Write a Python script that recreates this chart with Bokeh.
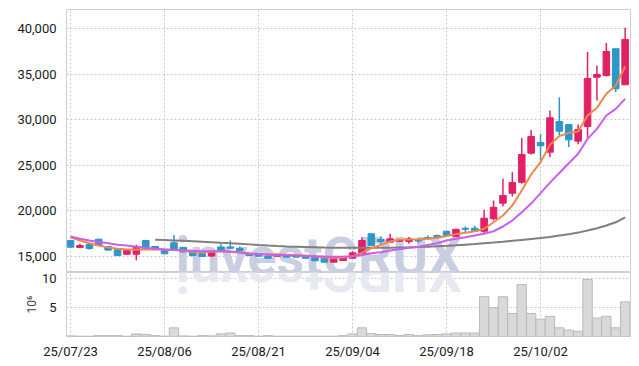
import numpy as np
from bokeh.plotting import figure
from bokeh.models import ColumnDataSource, Range1d, FixedTicker, NumeralTickFormatter
from bokeh.core.properties import value
from bokeh.layouts import column
from bokeh.embed import file_html
from bokeh.resources import INLINE

# ---- data ----
tick_idx = [0, 10, 20, 30, 40, 50]
tick_labels = ["25/07/23", "25/08/06", "25/08/21", "25/09/04", "25/09/18", "25/10/02"]

opens = [16750, 16000, 16300, 16900, 16100, 15750, 15250, 15250, 16750, 16100,
         15700, 16500, 16000, 15550, 15300, 15050, 16050, 16050, 15900, 15330,
         15330, 15030, 15030, 15180, 15110, 15030, 14890, 14810, 14380, 14560,
         14810, 15290, 17490, 16860, 16570, 16680, 16640, 16750, 17080, 17300,
         17770, 17200, 18100, 18100, 17770, 19140, 20850, 21940, 23150, 26330,
         27500, 26440, 29800, 29470, 27650, 29250, 34660, 34850, 37780, 33830]
highs = [16800, 16400, 16350, 16950, 16150, 15800, 15700, 16300, 16850, 16150,
         15750, 17350, 16050, 15600, 15350, 15600, 16400, 16750, 16100, 15400,
         15350, 15100, 15300, 15250, 15150, 15050, 14950, 14850, 14800, 15000,
         15580, 17120, 17550, 17230, 17490, 16900, 17150, 17000, 17300, 17400,
         17850, 18050, 18300, 18370, 20120, 21140, 23520, 24250, 28000, 28880,
         28440, 31010, 32450, 29500, 29470, 37410, 35950, 38400, 37800, 40070]
lows = [15950, 15900, 15750, 16150, 15650, 15100, 15200, 14600, 15850, 15700,
        15300, 15700, 15450, 15100, 14950, 14950, 15600, 15850, 15650, 15100,
        15000, 14800, 15000, 14900, 14900, 14800, 14500, 14350, 14350, 14500,
        14780, 15250, 16150, 16390, 16500, 16600, 16400, 16500, 16800, 17000,
        17250, 17150, 17700, 17700, 17550, 18950, 20480, 21580, 22970, 26180,
        25530, 25890, 28270, 27000, 27300, 28020, 32100, 34740, 33030, 33830]
closes = [16020, 16200, 15880, 16200, 15700, 15100, 15650, 16100, 15900, 15750,
          15300, 15700, 15500, 15100, 15000, 15550, 15650, 15900, 15650, 15110,
          15030, 14810, 15250, 14930, 14930, 14810, 14530, 14380, 14740, 14930,
          15400, 16750, 16210, 16640, 16940, 16860, 16940, 16700, 16940, 17050,
          17300, 17980, 17980, 17770, 19200, 20400, 21690, 23110, 26180, 28160,
          27140, 30210, 28740, 27790, 28930, 34520, 34960, 37480, 33390, 38800]
volume_m = [0.1, 0.05, 0.05, 0.15, 0.15, 0.15, 0.05, 0.45, 0.35, 0.15,
            0.05, 1.5, 0.1, 0.05, 0.15, 0.1, 0.45, 0.6, 0.15, 0.15,
            0.05, 0.15, 0.05, 0.05, 0.05, 0.05, 0.05, 0.05, 0.05, 0.15,
            0.45, 1.5, 0.5, 0.35, 0.35, 0.15, 0.35, 0.15, 0.3, 0.35,
            0.45, 0.6, 0.6, 0.6, 6.9, 5.0, 6.9, 4.0, 9.0, 4.0,
            3.0, 3.5, 1.5, 1.1, 0.9, 9.9, 3.2, 3.5, 1.5, 6.0]
ma_orange = [17100, 16750, 16450, 16200, 16000, 15850, 15780, 15770, 15770, 15780,
             15770, 15720, 15620, 15500, 15470, 15520, 15580, 15520, 15400, 15300,
             15280, 15250, 15220, 15200, 15150, 15100, 15000, 14880, 14830, 14880,
             15030, 15400, 15910, 16280, 16640, 16860, 16870, 16880, 16940, 17050,
             17250, 17450, 17600, 17770, 18040, 18760, 19500, 20590, 22240, 23990,
             25340, 27250, 28200, 28560, 28710, 30460, 31300, 32840, 33750, 35830]
ma_purple = [17190, 16950, 16750, 16600, 16450, 16300, 16200, 16080, 15950, 15850,
             15780, 15730, 15680, 15620, 15580, 15580, 15580, 15560, 15480, 15350,
             15250, 15200, 15170, 15140, 15100, 15060, 15030, 15000, 14980, 14990,
             15020, 15150, 15350, 15470, 15650, 15800, 15950, 16050, 16250, 16450,
             16750, 16950, 17100, 17300, 17490, 17770, 18290, 18950, 19860, 20800,
             21950, 23100, 24150, 25230, 26260, 27900, 29000, 30460, 31190, 32290]
ma_gray = [np.nan] * 9 + [
    16830, 16800, 16760, 16720, 16670, 16620, 16560, 16500, 16450, 16400,
    16330, 16260, 16200, 16150, 16110, 16080, 16050, 16020, 15990, 15970,
    15960, 15950, 15950, 15950, 15960, 15970, 15990, 16010, 16040, 16080,
    16120, 16170, 16230, 16300, 16370, 16450, 16530, 16620, 16720, 16820,
    16920, 17020, 17150, 17300, 17450, 17620, 17850, 18100, 18400, 18750, 19300]

UP = "#e31f66"
DOWN = "#2f96c8"
GRID = "#c5c9dc"
FONT = "Roboto"

n = len(opens)
xs = list(range(n))


def src(flag):
    d = dict(x=[], top=[], bottom=[], high=[], low=[])
    for i in xs:
        if (closes[i] >= opens[i]) == flag:
            d["x"].append(i)
            d["top"].append(max(opens[i], closes[i]))
            d["bottom"].append(min(opens[i], closes[i]))
            d["high"].append(highs[i])
            d["low"].append(lows[i])
    return ColumnDataSource(d)


up_src = src(True)
dn_src = src(False)

xr = Range1d(-0.43, 59.57)
YLO, YHI = 13246, 42083
VLO, VHI = 0, 11.1

p = figure(width=632, height=272, x_range=xr, y_range=Range1d(YLO, YHI),
           output_backend="svg", toolbar_location=None, x_axis_location=None,
           min_border_left=66, min_border_right=2, min_border_top=9, min_border_bottom=0)
p.outline_line_color = "#cfcfcf"
p.yaxis.ticker = FixedTicker(ticks=[15000, 20000, 25000, 30000, 35000, 40000])
p.yaxis.formatter = NumeralTickFormatter(format="0,0")
p.yaxis.axis_line_color = None
p.yaxis.major_tick_line_color = None
p.yaxis.minor_tick_line_color = None
p.yaxis.major_label_standoff = 4
p.yaxis.major_label_text_font = FONT
p.yaxis.major_label_text_font_size = "13px"
p.yaxis.major_label_text_color = "#1a1a1a"
p.xgrid.ticker = FixedTicker(ticks=tick_idx)
for g in (p.xgrid, p.ygrid):
    g.grid_line_color = GRID
    g.grid_line_dash = "2 2"
    g.grid_line_width = 1

# watermark (drawn first, under the candles)
p.text(x=[11.2], y=[15000], text=["investCRUX"], text_font=value(FONT),
       text_font_size="54px", text_font_style="bold", text_color="#c9cee1",
       text_baseline="middle", text_align="left")

p.segment(x0="x", y0="high", x1="x", y1="low", source=up_src, line_color=UP, line_width=1.5)
p.segment(x0="x", y0="high", x1="x", y1="low", source=dn_src, line_color=DOWN, line_width=1.5)
p.vbar(x="x", width=0.7, top="top", bottom="bottom", source=up_src,
       fill_color=UP, line_color=UP, line_width=1)
p.vbar(x="x", width=0.7, top="top", bottom="bottom", source=dn_src,
       fill_color=DOWN, line_color=DOWN, line_width=1)

p.line(xs, ma_gray, line_color="#7f7f7f", line_width=2)
p.line(xs, ma_orange, line_color="#f0874a", line_width=2)
p.line(xs, ma_purple, line_color="#c95ef0", line_width=2)

v = figure(width=632, height=89, x_range=xr, y_range=Range1d(VLO, VHI),
           output_backend="svg", toolbar_location=None,
           min_border_left=66, min_border_right=2, min_border_top=0, min_border_bottom=0)
v.outline_line_color = "#cfcfcf"
v.xaxis.ticker = FixedTicker(ticks=tick_idx)
v.xaxis.major_label_overrides = {t: l for t, l in zip(tick_idx, tick_labels)}
v.yaxis.ticker = FixedTicker(ticks=[5, 10])
v.yaxis.axis_label = "10⁶"
v.yaxis.axis_label_text_font = FONT
v.yaxis.axis_label_text_font_style = "normal"
v.yaxis.axis_label_text_font_size = "12px"
v.yaxis.axis_label_text_color = "#444444"
v.yaxis.axis_label_standoff = 0
for ax in (v.xaxis, v.yaxis):
    ax.axis_line_color = None
    ax.major_tick_line_color = None
    ax.minor_tick_line_color = None
    ax.major_label_text_font = FONT
    ax.major_label_text_font_size = "13px"
    ax.major_label_text_color = "#1a1a1a"
v.yaxis.major_label_standoff = 4
v.xaxis.major_label_standoff = 1
for g in (v.xgrid, v.ygrid):
    g.grid_line_color = GRID
    g.grid_line_dash = "2 2"
    g.grid_line_width = 1

# faint reflection of the watermark
v.text(x=[11.2], y=[VHI], text=["XURCtsevni"], text_font=value(FONT),
       text_font_size="54px", text_font_style="bold", text_color="#e7e9f2",
       text_baseline="alphabetic", text_align="right", angle=np.pi)

v.vbar(x=xs, top=volume_m, width=1.0, fill_color="#d9d9d9", line_color="#b9b9b9", line_width=1)

layout = column(p, v)
open("out.html", "w").write(file_html(layout, INLINE))
